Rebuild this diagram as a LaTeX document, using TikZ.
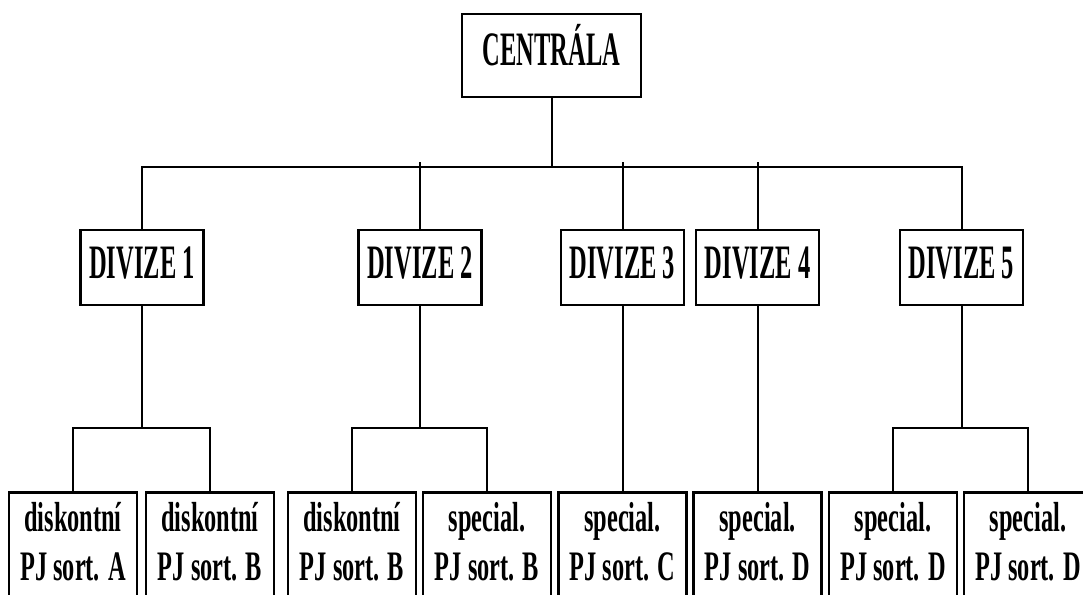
\documentclass[tikz,border=0pt]{standalone}
\usepackage{fontspec}
\setmainfont{Liberation Serif}
\newfontfamily\topfont{Liberation Serif}[FakeStretch=0.51]
\newfontfamily\lowfont{Liberation Serif}[FakeStretch=0.58]
\begin{document}
\begin{tikzpicture}[x=1pt,y=-1pt,
  box/.style={draw, line width=2.5pt, inner sep=0pt, fill=white},
  cenbox/.style={box, minimum width=179pt, minimum height=83pt,
    font=\topfont\bfseries\fontsize{48}{50}\selectfont, text height=32pt, text depth=13pt},
  divbox/.style={box, minimum width=123pt, minimum height=75pt,
    font=\topfont\bfseries\fontsize{48}{50}\selectfont, text height=32pt, text depth=11pt},
  leafbox/.style={box, minimum width=128pt, minimum height=130pt, anchor=north},
  lowtxt/.style={inner sep=0pt, anchor=base, font=\lowfont\bfseries\fontsize{42}{44}\selectfont},
  conn/.style={line width=2pt}
]
\useasboundingbox (0,0) rectangle (1083,594);
\clip (0,0) rectangle (1083,594);
\fill[white] (0,0) rectangle (1083,594);

\node[cenbox] (c) at (551.5,55.5) {CENTRÁLA};
\node[divbox] (d1) at (142,267.5) {DIVIZE 1};
\node[divbox] (d2) at (420,267.5) {DIVIZE 2};
\node[divbox] (d3) at (622.5,267.5) {DIVIZE 3};
\node[divbox] (d4) at (757.7,267.5) {DIVIZE 4};
\node[divbox] (d5) at (961.5,267.5) {DIVIZE 5};

\newcommand\leafnode[4]{%
  \node[leafbox] (#1) at (#2,491) {};
  \node[lowtxt] (#1a) at (#2,531.5) {#3};
  \node[lowtxt] (#1b) at (#2,580) {#4};
}
\leafnode{b1}{73}{diskontní}{PJ sort. A}
\leafnode{b2}{210}{diskontní}{PJ sort. B}
\leafnode{b3}{352}{diskontní}{PJ sort. B}
\leafnode{b4}{487}{special.}{PJ sort. B}
\leafnode{b5}{622.5}{special.}{PJ sort. C}
\leafnode{b6}{757.7}{special.}{PJ sort. D}
\leafnode{b7}{893}{special.}{PJ sort. D}
\leafnode{b8}{1028}{special.}{PJ sort. D}

\coordinate (bus) at (551.5,166.5);
\coordinate (bustop) at (551.5,162);
\coordinate (sub) at (0,428);

\draw[conn] (c.south) -- (c.south |- bus);
\draw[conn] (d1.north) |- (d5.north |- bus) -- (d5.north);
\draw[conn] (d2.north) -- (d2.north |- bustop);
\draw[conn] (d3.north) -- (d3.north |- bustop);
\draw[conn] (d4.north) -- (d4.north |- bustop);

\draw[conn] (d1.south) -- (d1.south |- sub);
\draw[conn] (b1.north) |- (b2.north |- sub) -- (b2.north);
\draw[conn] (d2.south) -- (d2.south |- sub);
\draw[conn] (b3.north) |- (b4.north |- sub) -- (b4.north);
\draw[conn] (d3.south) -- (b5.north);
\draw[conn] (d4.south) -- (b6.north);
\draw[conn] (d5.south) -- (d5.south |- sub);
\draw[conn] (b7.north) |- (b8.north |- sub) -- (b8.north);
\end{tikzpicture}
\end{document}
